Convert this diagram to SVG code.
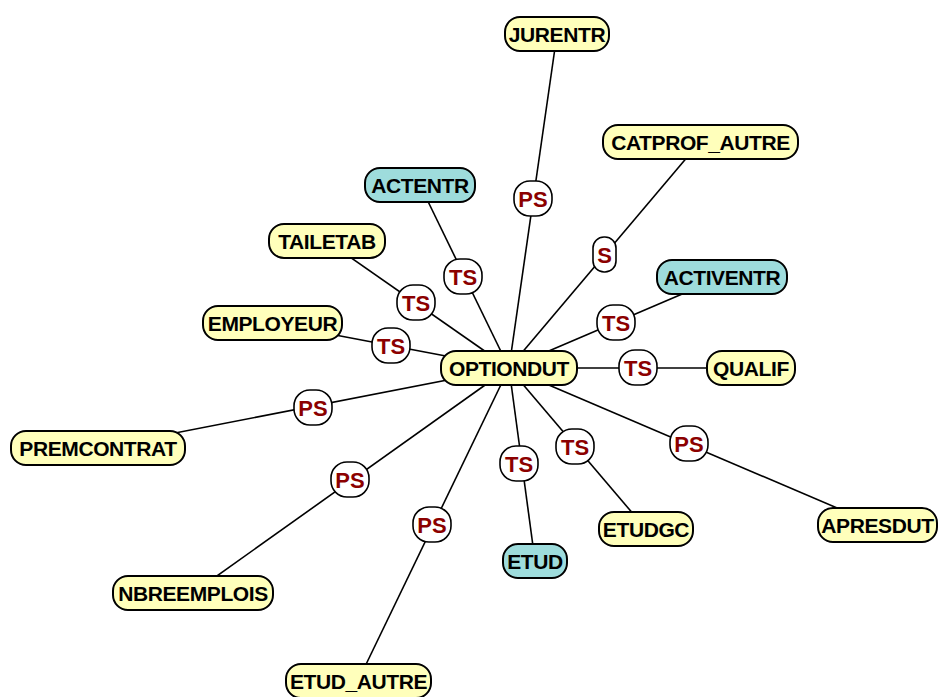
<svg xmlns="http://www.w3.org/2000/svg" width="938" height="697" viewBox="0 0 938 697">
  <style>
    .edge { stroke: #000; stroke-width: 1.6; fill: none; }
    .node rect { stroke: #000; stroke-width: 2; }
    .yel rect { fill: #ffffbb; }
    .teal rect { fill: #9edcdc; }
    .node text { font-family: "Liberation Sans", Arial, sans-serif; font-weight: bold; font-size: 21px; letter-spacing: -0.4px; fill: #000; text-anchor: middle; dominant-baseline: central; }
    .lab rect { fill: #fff; stroke: #000; stroke-width: 1.6; }
    .lab text { font-family: "Liberation Sans", Arial, sans-serif; font-weight: bold; font-size: 22px; fill: #8b0000; text-anchor: middle; dominant-baseline: central; }
  </style>

  <!-- connectors: straight lines from the hub to each satellite -->
  <g id="connectors">
    <line class="edge" x1="509" y1="368" x2="557" y2="34"/>
    <line class="edge" x1="509" y1="368" x2="700" y2="142"/>
    <line class="edge" x1="509" y1="368" x2="420" y2="185"/>
    <line class="edge" x1="509" y1="368" x2="327" y2="241"/>
    <line class="edge" x1="509" y1="368" x2="722" y2="277"/>
    <line class="edge" x1="509" y1="368" x2="272" y2="323"/>
    <line class="edge" x1="509" y1="368" x2="751" y2="368"/>
    <line class="edge" x1="509" y1="368" x2="98" y2="448"/>
    <line class="edge" x1="509" y1="368" x2="877" y2="525"/>
    <line class="edge" x1="509" y1="368" x2="646" y2="529"/>
    <line class="edge" x1="509" y1="368" x2="535" y2="561"/>
    <line class="edge" x1="509" y1="368" x2="193" y2="593"/>
    <line class="edge" x1="509" y1="368" x2="358" y2="681"/>

    <!-- edge labels -->
    <g class="lab"><rect x="514" y="181" width="38" height="35" rx="16"/><text x="533" y="199">PS</text></g>
    <g class="lab"><rect x="593" y="237" width="23" height="35" rx="11"/><text x="604.5" y="255">S</text></g>
    <g class="lab"><rect x="444" y="259" width="38" height="35" rx="16"/><text x="463" y="277">TS</text></g>
    <g class="lab"><rect x="397" y="285" width="38" height="35" rx="16"/><text x="416" y="303">TS</text></g>
    <g class="lab"><rect x="597" y="305" width="38" height="35" rx="16"/><text x="616" y="323">TS</text></g>
    <g class="lab"><rect x="372" y="328" width="38" height="35" rx="16"/><text x="391" y="346">TS</text></g>
    <g class="lab"><rect x="619" y="350" width="38" height="35" rx="16"/><text x="638" y="368">TS</text></g>
    <g class="lab"><rect x="294" y="390" width="38" height="35" rx="16"/><text x="313" y="408">PS</text></g>
    <g class="lab"><rect x="670" y="426" width="38" height="35" rx="16"/><text x="689" y="444">PS</text></g>
    <g class="lab"><rect x="556" y="429" width="38" height="35" rx="16"/><text x="575" y="447">TS</text></g>
    <g class="lab"><rect x="500" y="446" width="38" height="35" rx="16"/><text x="519" y="464">TS</text></g>
    <g class="lab"><rect x="331" y="462" width="38" height="35" rx="16"/><text x="350" y="480">PS</text></g>
    <g class="lab"><rect x="413" y="507" width="38" height="35" rx="16"/><text x="432" y="525">PS</text></g>
  </g>

  <!-- nodes -->
  <g id="JURENTR" class="node yel"><rect x="505" y="17" width="104" height="34" rx="15"/><text x="557" y="34">JURENTR</text></g>
  <g id="CATPROF_AUTRE" class="node yel"><rect x="603" y="125" width="195" height="34" rx="15"/><text x="700.5" y="142">CATPROF_AUTRE</text></g>
  <g id="ACTENTR" class="node teal"><rect x="365" y="168" width="110" height="34" rx="15"/><text x="420" y="185">ACTENTR</text></g>
  <g id="TAILETAB" class="node yel"><rect x="269" y="224" width="116" height="34" rx="15"/><text x="327" y="241">TAILETAB</text></g>
  <g id="ACTIVENTR" class="node teal"><rect x="657" y="260" width="130" height="34" rx="15"/><text x="722" y="277">ACTIVENTR</text></g>
  <g id="EMPLOYEUR" class="node yel"><rect x="203" y="306" width="139" height="34" rx="15"/><text x="272.5" y="323">EMPLOYEUR</text></g>
  <g id="OPTIONDUT" class="node yel"><rect x="441" y="351" width="136" height="34" rx="15"/><text x="509" y="368">OPTIONDUT</text></g>
  <g id="QUALIF" class="node yel"><rect x="707" y="351" width="88" height="34" rx="15"/><text x="751" y="368">QUALIF</text></g>
  <g id="PREMCONTRAT" class="node yel"><rect x="11" y="431" width="174" height="34" rx="15"/><text x="98" y="448">PREMCONTRAT</text></g>
  <g id="APRESDUT" class="node yel"><rect x="818" y="508" width="119" height="34" rx="15"/><text x="877.5" y="525">APRESDUT</text></g>
  <g id="ETUDGC" class="node yel"><rect x="599" y="512" width="94" height="34" rx="15"/><text x="646" y="529">ETUDGC</text></g>
  <g id="ETUD" class="node teal"><rect x="503" y="544" width="64" height="34" rx="15"/><text x="535" y="561">ETUD</text></g>
  <g id="NBREEMPLOIS" class="node yel"><rect x="113" y="576" width="160" height="34" rx="15"/><text x="193" y="593">NBREEMPLOIS</text></g>
  <g id="ETUD_AUTRE" class="node yel"><rect x="286" y="664" width="145" height="34" rx="15"/><text x="358.5" y="681">ETUD_AUTRE</text></g>
</svg>
